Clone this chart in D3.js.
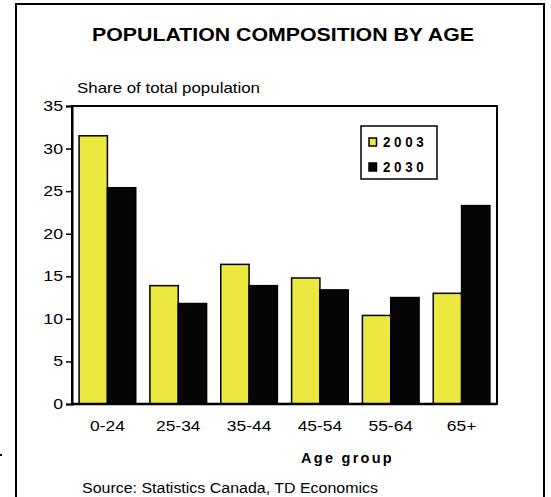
<!DOCTYPE html>
<html>
<head>
<meta charset="utf-8">
<script src="https://cdn.jsdelivr.net/npm/d3@7"></script>
<style>
  html, body { margin: 0; padding: 0; background: #fff; }
  svg { display: block; font-family: Arial, "Liberation Sans", sans-serif; }
</style>
</head>
<body>
<svg id="chart" width="551" height="497"></svg>
<script>
const categories = ["0-24", "25-34", "35-44", "45-54", "55-64", "65+"];
const seriesNames = ["2003", "2030"];
const values2003 = [31.5, 13.9, 16.4, 14.8, 10.4, 13.0];
const values2030 = [25.4, 11.8, 13.9, 13.4, 12.5, 23.3];
const yTicks = [0, 5, 10, 15, 20, 25, 30, 35];
const colors = ["#EDE840", "#050505"];

const STRETCH = 1.13;
const svg = d3.select("#chart");

function stretch(sel, k) {
  sel.each(function () {
    const len = this.getComputedTextLength();
    d3.select(this).attr("textLength", len * k).attr("lengthAdjust", "spacingAndGlyphs");
  });
}

// outer frame
svg.append("rect").attr("x", 16).attr("y", 4).attr("width", 528).attr("height", 520)
  .attr("fill", "none").attr("stroke", "#000").attr("stroke-width", 2);

// stray dot at left edge
svg.append("rect").attr("x", 0).attr("y", 454).attr("width", 2).attr("height", 2).attr("fill", "#000");

const plot = { left: 72, right: 497, top: 106, bottom: 404 };

const x = d3.scaleBand().domain(categories).range([plot.left, plot.right])
  .paddingInner(0.2).paddingOuter(0.1);
const xs = d3.scaleBand().domain(seriesNames).range([0, x.bandwidth()]);
const y = d3.scaleLinear().domain([0, 35]).range([plot.bottom, plot.top]);

// title
const title = svg.append("text").attr("x", 283).attr("y", 41).attr("text-anchor", "middle")
  .attr("font-size", 18.7).attr("font-weight", "bold").text("POPULATION COMPOSITION BY AGE");
title.attr("textLength", 382).attr("lengthAdjust", "spacingAndGlyphs");

// subtitle
const sub = svg.append("text").attr("x", 77).attr("y", 93)
  .attr("font-size", 14.5).text("Share of total population");
sub.attr("textLength", 183).attr("lengthAdjust", "spacingAndGlyphs");

// plot border
svg.append("rect").attr("x", plot.left).attr("y", plot.top)
  .attr("width", plot.right - plot.left).attr("height", plot.bottom - plot.top)
  .attr("fill", "none").attr("stroke", "#000").attr("stroke-width", 2);

// bars
const rows = categories.map((c, i) => ({ cat: c, vals: [values2003[i], values2030[i]] }));
const g = svg.append("g");
rows.forEach(r => {
  r.vals.forEach((v, j) => {
    g.append("rect")
      .attr("x", x(r.cat) + xs(seriesNames[j]))
      .attr("y", y(v))
      .attr("width", xs.bandwidth())
      .attr("height", y(0) - y(v))
      .attr("fill", colors[j])
      .attr("stroke", "#000")
      .attr("stroke-width", 1.5);
  });
});

// y axis
const yAxis = svg.append("g").attr("transform", `translate(${plot.left},0)`)
  .call(d3.axisLeft(y).tickValues(yTicks).tickSize(6).tickPadding(3));
yAxis.select(".domain").attr("stroke-width", 2);
yAxis.selectAll(".tick line").attr("stroke-width", 1.5);
yAxis.selectAll("text").attr("font-size", 14).attr("fill", "#000")
  .attr("font-family", "Arial, 'Liberation Sans', sans-serif");
stretch(yAxis.selectAll("text"), STRETCH * 1.12);

// x axis baseline
svg.append("line").attr("x1", plot.left).attr("x2", plot.right)
  .attr("y1", y(0)).attr("y2", y(0)).attr("stroke", "#000").attr("stroke-width", 2.5);

// x labels
const xAxis = svg.append("g").attr("transform", `translate(0,${plot.bottom})`)
  .call(d3.axisBottom(x).tickSize(0).tickPadding(17));
xAxis.select(".domain").remove();
xAxis.selectAll("text").attr("font-size", 14).attr("fill", "#000")
  .attr("font-family", "Arial, 'Liberation Sans', sans-serif");
stretch(xAxis.selectAll("text"), STRETCH * 1.1);

// x title
const xt = svg.append("text").attr("x", 347.5).attr("y", 463).attr("text-anchor", "middle")
  .attr("font-size", 14).attr("font-weight", "bold").attr("letter-spacing", 2.2).text("Age group");
xt.attr("textLength", 93).attr("lengthAdjust", "spacingAndGlyphs");

// source
const src = svg.append("text").attr("x", 82).attr("y", 493)
  .attr("font-size", 14).text("Source: Statistics Canada, TD Economics");
src.attr("textLength", 296).attr("lengthAdjust", "spacingAndGlyphs");

// legend
const lg = svg.append("g");
lg.append("rect").attr("x", 361).attr("y", 126).attr("width", 76).attr("height", 53)
  .attr("fill", "#fff").attr("stroke", "#000").attr("stroke-width", 1.5);
seriesNames.forEach((s, i) => {
  const yy = 138 + i * 25;
  lg.append("rect").attr("x", 369).attr("y", yy).attr("width", 7.5).attr("height", 8)
    .attr("fill", colors[i]).attr("stroke", "#000").attr("stroke-width", 1.5);
  const t = lg.append("text").attr("x", 383).attr("y", yy + 9)
    .attr("font-size", 14.5).attr("font-weight", "bold").attr("letter-spacing", 4).text(s);
  t.attr("textLength", 44.5).attr("lengthAdjust", "spacingAndGlyphs");
});
</script>
</body>
</html>
